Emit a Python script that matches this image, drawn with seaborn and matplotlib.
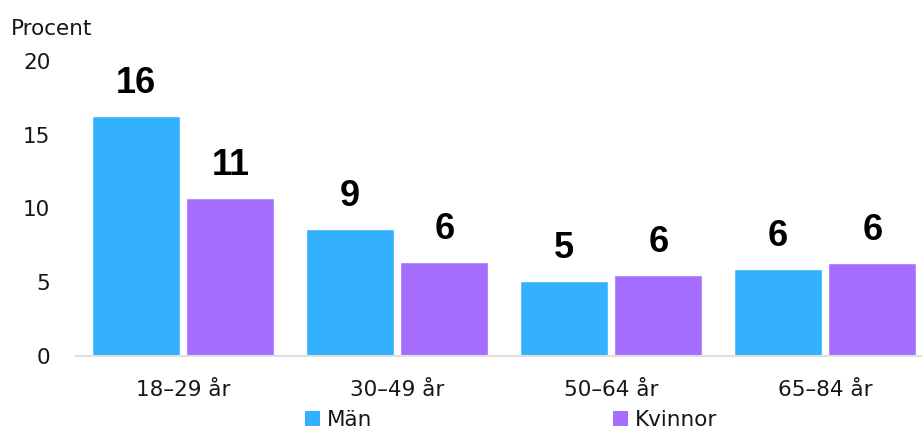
import matplotlib
matplotlib.use("Agg")
import matplotlib.pyplot as plt
from matplotlib import font_manager
from matplotlib.patches import Patch
import pandas as pd
import seaborn as sns

# Andel (procent) per åldersgrupp och kön
age_groups = ["18–29 år", "30–49 år", "50–64 år", "65–84 år"]
men = [16.3, 8.6, 5.1, 5.9]
women = [10.7, 6.4, 5.5, 6.3]
series = ["Män", "Kvinnor"]
colors = ["#33B1FF", "#A56EFF"]
y_ticks = [0, 5, 10, 15, 20]

df = pd.DataFrame({
    "grupp": age_groups * 2,
    "kön": [series[0]] * len(age_groups) + [series[1]] * len(age_groups),
    "procent": men + women,
})

sns.set_theme(style="white")
plt.rcParams["font.family"] = ["DejaVu Sans"]

# Fet Arial-liknande stil för värdeetiketterna (inte den smala varianten)
bold_path = next((p for p in font_manager.findSystemFonts()
                  if p.endswith("LiberationSans-Bold.ttf")), None)
if bold_path:
    value_font = font_manager.FontProperties(fname=bold_path, size=26)
else:
    value_font = font_manager.FontProperties(family="DejaVu Sans", weight="bold", size=24)

W, H = 922, 430
fig = plt.figure(figsize=(W / 100, H / 100), dpi=100)
ax_left, ax_bottom, ax_top = 76, 356, 61
ax_width = 856
ax = fig.add_axes([ax_left / W, 1 - ax_bottom / H, ax_width / W, (ax_bottom - ax_top) / H])

sns.barplot(data=df, x="grupp", y="procent", hue="kön", order=age_groups,
            hue_order=series, palette=colors, errorbar=None, width=0.886,
            gap=0.072, saturation=1, legend=False, ax=ax)

ax.set_xlim(-0.5, 3.5)
ax.set_ylim(0, 20)
ax.set_yticks(y_ticks)
ax.set_xlabel("")
ax.set_ylabel("")
ax.tick_params(axis="y", length=0, pad=18.5, labelsize=15.5, labelcolor="#161616")
ax.tick_params(axis="x", length=0, pad=17, labelsize=15.5, labelcolor="#161616")
for side in ["top", "right", "left"]:
    ax.spines[side].set_visible(False)
ax.spines["bottom"].set_color("#e0e0e0")
ax.spines["bottom"].set_linewidth(1.5)
ax.grid(False)

# Värdeetiketter ovanför staplarna
for container, vals in zip(ax.containers, [men, women]):
    for bar, v in zip(container, vals):
        ax.annotate(f"{v:.0f}", xy=(bar.get_x() + bar.get_width() / 2, v),
                    xytext=(0, 16.5), textcoords="offset points",
                    ha="center", va="baseline", fontproperties=value_font,
                    color="black", annotation_clip=False)

fig.text(11 / W, 1 - 35 / H, "Procent", fontsize=15.5, color="#161616",
         ha="left", va="baseline")

handles = [Patch(facecolor=c, edgecolor="none") for c in colors]
fig.legend(handles, series, loc="lower center", bbox_to_anchor=(511 / W, 0.0),
           ncol=2, frameon=False, fontsize=15.5, handlelength=0.7, handleheight=0.7,
           handletextpad=0.32, columnspacing=11.2, borderpad=0, borderaxespad=0,
           labelcolor="#161616")

fig.savefig("out.png", dpi=100)
